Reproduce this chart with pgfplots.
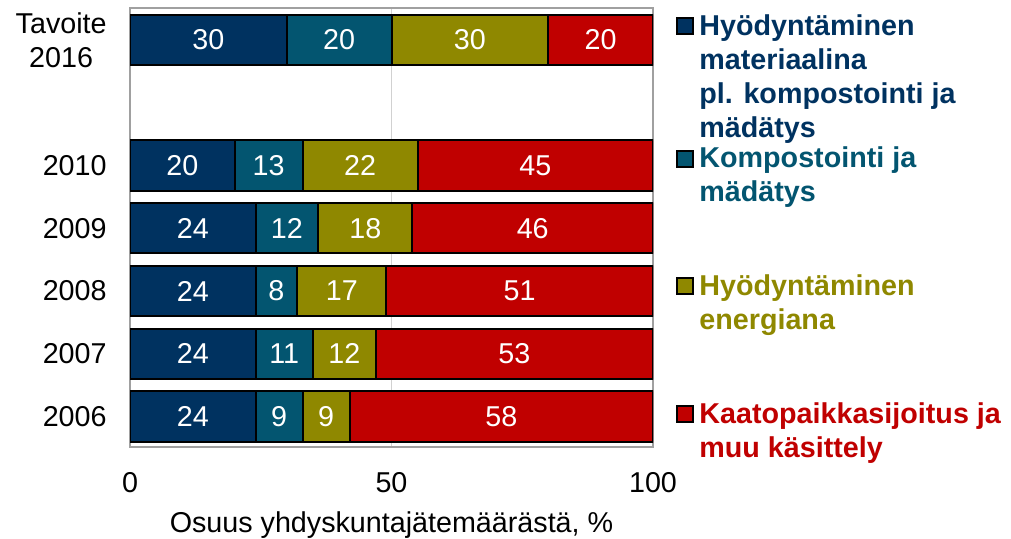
\documentclass[border=0pt]{standalone}
\usepackage{fontspec}
\setmainfont{Liberation Sans}
\usepackage{pgfplots}
\usepackage{pgfplotstable}
\pgfplotsset{compat=1.18}
\definecolor{cA}{RGB}{0,50,96}
\definecolor{cB}{RGB}{3,85,112}
\definecolor{cC}{RGB}{143,136,0}
\definecolor{cD}{RGB}{192,0,0}
\definecolor{frameC}{RGB}{160,160,160}
\pgfplotstableread{
pos a b c d
0 24 9 9 58
1 24 11 12 53
2 24 8 17 51
3 24 12 18 46
4 20 13 22 45
6 30 20 30 20
}\data
\pgfplotsset{
  seg/.style 2 args={
    fill=#1, draw=black, line width=1pt,
    point meta=\thisrow{#2},
    nodes near coords,
    every node near coord/.style={anchor=center, text=white},
  }
}
\begin{document}
\fontsize{14.35}{17}\selectfont
\begin{tikzpicture}
\useasboundingbox (-65pt,-45.5pt) rectangle (440.5pt,223.5pt);
\begin{axis}[
  xbar stacked,
  scale only axis,
  width=261.5pt, height=219.5pt,
  xmin=0, xmax=100, ymin=-0.486, ymax=6.51,
  bar width=0.8,
  xtick={0,50,100},
  ytick={0,1,2,3,4,6},
  yticklabels={2006,2007,2008,2009,2010,{Tavoite\\2016}},
  yticklabel style={align=center, xshift=-6.7pt},
  xticklabel style={anchor=base, yshift=-22.5pt},
  major tick length=0pt,
  xmajorgrids, major grid style={draw=black!18, line width=0.6pt},
  axis line style={draw=frameC, line width=1pt},
  /pgf/number format/assume math mode=true,
  xlabel={Osuus yhdyskuntajätemäärästä, \%},
  xlabel style={at={(axis description cs:0.5,0)}, anchor=base, yshift=-42.5pt},
]
\addplot[seg={cA}{a}] table[x=a, y=pos] {\data};
\addplot[seg={cB}{b}] table[x=b, y=pos] {\data};
\addplot[seg={cC}{c}] table[x=c, y=pos] {\data};
\addplot[seg={cD}{d}] table[x=d, y=pos] {\data};
\end{axis}
\begin{scope}[every node/.style={inner sep=0pt}]
\node[draw=black, line width=1pt, fill=cA, minimum size=8pt] at (277.25pt,210.5pt) {};
\node[anchor=base west, align=left, text=cA, font=\bfseries] at (284.5pt,155pt) {Hyödyntäminen\\materiaalina\\pl. kompostointi ja\\mädätys};
\node[draw=black, line width=1pt, fill=cB, minimum size=8pt] at (277.25pt,144.25pt) {};
\node[anchor=base west, align=left, text=cB, font=\bfseries] at (284.5pt,122.75pt) {Kompostointi ja\\mädätys};
\node[draw=black, line width=1pt, fill=cC, minimum size=8pt] at (277.25pt,80.5pt) {};
\node[anchor=base west, align=left, text=cC, font=\bfseries] at (284.5pt,59pt) {Hyödyntäminen\\energiana};
\node[draw=black, line width=1pt, fill=cD, minimum size=8pt] at (277.25pt,16.5pt) {};
\node[anchor=base west, align=left, text=cD, font=\bfseries] at (284.5pt,-5pt) {Kaatopaikkasijoitus ja\\muu käsittely};
\end{scope}
\end{tikzpicture}
\end{document}
